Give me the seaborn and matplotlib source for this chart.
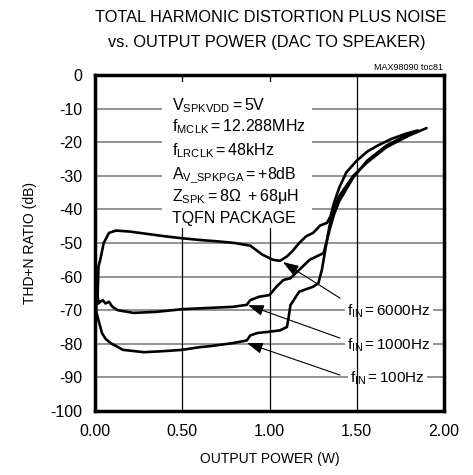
import numpy as np
import pandas as pd
import matplotlib
matplotlib.use("Agg")
import matplotlib.pyplot as plt
from matplotlib.patches import Rectangle
import seaborn as sns

# ---------------- data ----------------
x_6000 = [0.005, 0.01, 0.015, 0.02, 0.03, 0.05, 0.08, 0.12, 0.2, 0.3, 0.4, 0.5, 0.6, 0.7, 0.8, 0.89,
          0.96, 1.02, 1.06, 1.10, 1.13, 1.17, 1.21, 1.25, 1.29, 1.33, 1.35, 1.37, 1.40, 1.44, 1.50,
          1.56, 1.62, 1.70, 1.78, 1.85]
y_6000 = [-70, -60, -66, -57, -55, -50, -47, -46.3, -46.6, -47.3, -48, -48.6, -49.1, -49.5, -50, -50.8,
          -53.5, -55, -55.3, -54, -52.5, -50, -48, -47, -44.8, -44, -42, -38, -33.5, -29, -25.5,
          -22.8, -21, -19, -17.5, -16.5]

x_1000 = [0.005, 0.01, 0.02, 0.03, 0.045, 0.06, 0.08, 0.1, 0.13, 0.22, 0.35, 0.5, 0.66, 0.79, 0.87,
          0.89, 0.94, 1.0, 1.04, 1.08, 1.12, 1.17, 1.23, 1.31, 1.33, 1.35, 1.37, 1.40, 1.48, 1.56,
          1.67, 1.80]
y_1000 = [-72, -63, -68, -67.5, -67, -68, -67.5, -69, -70, -70.8, -70.5, -69.7, -69.3, -69, -68.4,
          -67, -66, -65.5, -63, -61, -60.5, -58, -55, -53, -49, -45, -41.5, -37.5, -30.5, -25.5,
          -21, -17.5]

x_100 = [0.005, 0.01, 0.02, 0.04, 0.06, 0.09, 0.16, 0.28, 0.39, 0.5, 0.6, 0.66, 0.79, 0.87, 0.89,
         0.93, 1.0, 1.06, 1.10, 1.11, 1.12, 1.17, 1.25, 1.28, 1.30, 1.32, 1.34, 1.36, 1.40, 1.48,
         1.56, 1.67, 1.80, 1.90]
y_100 = [-70, -71, -73, -76.8, -78.5, -79.8, -81.8, -82.5, -82.2, -81.8, -81, -80.7, -79.8, -79,
         -77.5, -76.8, -76.4, -76, -75, -72, -68.5, -64.5, -63, -62, -58, -52, -46, -41, -36,
         -30, -26, -21.5, -18, -15.8]

x_ticks = [0.0, 0.5, 1.0, 1.5, 2.0]
x_tick_labels = ["0.00", "0.50", "1.00", "1.50", "2.00"]
y_ticks = [0, -10, -20, -30, -40, -50, -60, -70, -80, -90, -100]

series_names = ["6000Hz", "1000Hz", "100Hz"]
label_texts = [r"$\mathregular{f_{IN} = 6000Hz}$", r"$\mathregular{f_{IN} = 1000Hz}$",
               r"$\mathregular{f_{IN} = 100Hz}$"]
arrow_heads = [(1.077, -55.7), (0.877, -68.5), (0.871, -79.8)]
arrow_tails = [(1.404, -66.4), (1.404, -78.3), (1.404, -89.3)]
label_pos = [(1.445, -70.3), (1.445, -80.3), (1.46, -90.3)]

cond_lines = [r"$\mathregular{V_{SPKVDD} = 5V}$",
              r"$\mathregular{f_{MCLK} = 12.288MHz}$",
              r"$\mathregular{f_{LRCLK} = 48kHz}$",
              r"$\mathregular{A_{V\_SPKPGA} = +8dB}$",
              r"$\mathregular{Z_{SPK} = 8\Omega\ + 68\mu H}$",
              "TQFN PACKAGE"]
cond_y = [-10.4, -16.9, -23.8, -30.7, -37.4, -44.1]

df = pd.concat([
    pd.DataFrame({"power": x_6000, "thd": y_6000, "freq": "6000Hz"}),
    pd.DataFrame({"power": x_1000, "thd": y_1000, "freq": "1000Hz"}),
    pd.DataFrame({"power": x_100, "thd": y_100, "freq": "100Hz"}),
], ignore_index=True)

# ---------------- style ----------------
sns.set_theme(style="white")
FONT = ["Liberation Sans", "DejaVu Sans"]
plt.rcParams["font.family"] = FONT
plt.rcParams["mathtext.fontset"] = "custom"
plt.rcParams["mathtext.rm"] = "Liberation Sans"
plt.rcParams["mathtext.it"] = "Liberation Sans"
plt.rcParams["mathtext.bf"] = "Liberation Sans"

fig = plt.figure(figsize=(4.73, 4.75), dpi=100)
ax = fig.add_axes([95 / 473, 1 - 411 / 475, 349 / 473, 336 / 475])

sns.lineplot(data=df, x="power", y="thd", hue="freq", sort=False, estimator=None,
             palette={n: "black" for n in series_names}, legend=False, lw=1.9, ax=ax, zorder=6)

ax.set_xlim(0, 2.0)
ax.set_ylim(-100, 0)
ax.set_xticks(x_ticks)
ax.set_xticklabels(x_tick_labels)
ax.set_yticks(y_ticks)
ax.set_yticklabels([str(v) for v in y_ticks])
ax.tick_params(length=0, labelsize=11.5, colors="black", pad=9)

for yv in y_ticks[1:-1]:
    ax.axhline(yv, color="#777777", lw=1.1, zorder=1)
for xv in x_ticks[1:-1]:
    ax.axvline(xv, color="black", lw=0.9, zorder=3)

for s in ax.spines.values():
    s.set_color("black")
    s.set_linewidth(2.5)
    s.set_zorder(10)

ax.set_xlabel("OUTPUT POWER (W)", fontsize=10, color="black", labelpad=10)
ax.set_ylabel("THD+N RATIO (dB)", fontsize=10, color="black", labelpad=10)

# conditions box
ax.add_patch(Rectangle((0.385, -45.5), 0.86, 43.4, facecolor="white", edgecolor="none", zorder=4))
for t, yv in zip(cond_lines, cond_y):
    ax.text(0.44, yv, t, fontsize=11.5, color="black", ha="left", va="baseline", zorder=5)

# annotations
for t, pos, head, tail in zip(label_texts, label_pos, arrow_heads, arrow_tails):
    ax.text(pos[0], pos[1], t, fontsize=11, color="black", ha="left", va="center", zorder=2,
            bbox=dict(facecolor="white", edgecolor="none", pad=1.5))
    ax.annotate("", xy=head, xytext=tail,
                arrowprops=dict(arrowstyle="-|>,head_length=0.8,head_width=0.28", color="black",
                                lw=0.8, shrinkA=0, shrinkB=0), zorder=7)

fig.text(271 / 473, 1 - 18 / 475, "TOTAL HARMONIC DISTORTION PLUS NOISE", fontsize=11.8,
         ha="center", va="center", color="black")
fig.text(267 / 473, 1 - 42 / 475, "vs. OUTPUT POWER (DAC TO SPEAKER)", fontsize=11.8,
         ha="center", va="center", color="black")
fig.text(443 / 473, 1 - 67 / 475, "MAX98090 toc81", fontsize=6.5, ha="right", va="center",
         color="black")

fig.savefig("out.png", dpi=100, facecolor="white")
